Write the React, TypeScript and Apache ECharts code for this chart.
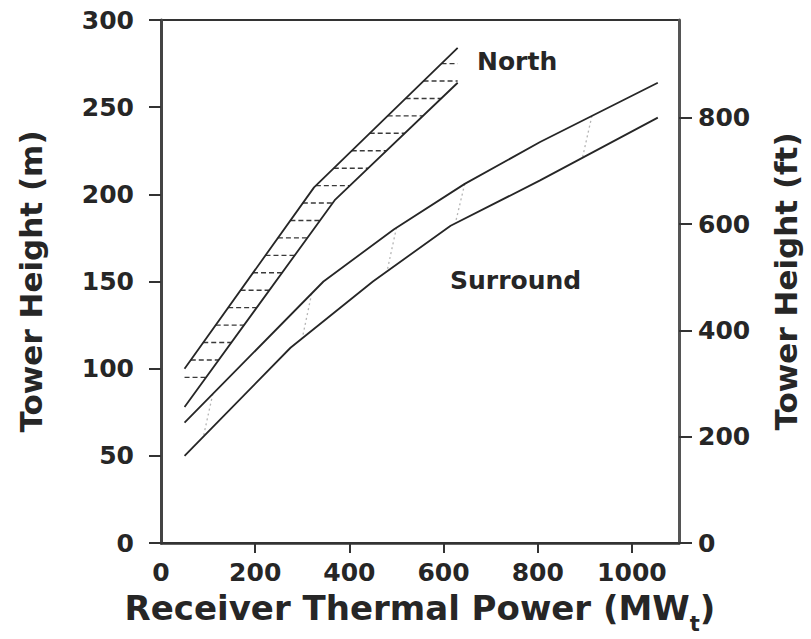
import React, { useEffect, useRef } from 'react';
import * as echarts from 'echarts';

// Axis ticks
const powerTicks = [0, 200, 400, 600, 800, 1000];
const powerTickMarks = [200, 400, 600, 800, 1000];
const heightTicksFt = [0, 200, 400, 600, 800];

// Band edges: [receiver thermal power (MWt), tower height (m)]
const northUpper = [[50, 100], [325, 204], [630, 284]];
const northLower = [[50, 78], [370, 197], [630, 264]];
const surroundUpper = [[50, 69], [345, 150], [495, 180], [645, 206], [805, 230], [1055, 264]];
const surroundLower = [[50, 50], [275, 112], [450, 150], [615, 182], [805, 208], [1055, 244]];

// Horizontal hatch levels inside the North band (m)
const northHatchLevels = [95, 105, 115, 125, 135, 145, 155, 165, 175, 185, 195, 205, 215, 225, 235, 245, 255, 265, 275];
// Faint cross strokes inside the Surround band (MWt)
const surroundHatchPowers = [110, 320, 500, 645, 915];

const FT_PER_M = 1 / 0.3048;
const FONT = 'DejaVu Sans';
const INK = '#262626';

function xAtHeight(poly: number[][], h: number): number | null {
  for (let i = 0; i < poly.length - 1; i++) {
    const [x0, y0] = poly[i];
    const [x1, y1] = poly[i + 1];
    if ((h >= y0 && h <= y1) || (h <= y0 && h >= y1)) {
      if (y1 === y0) return x0;
      return x0 + ((h - y0) / (y1 - y0)) * (x1 - x0);
    }
  }
  return null;
}

function yAtPower(poly: number[][], x: number): number {
  for (let i = 0; i < poly.length - 1; i++) {
    const [x0, y0] = poly[i];
    const [x1, y1] = poly[i + 1];
    if (x >= x0 && x <= x1) return y0 + ((x - x0) / (x1 - x0)) * (y1 - y0);
  }
  return x < poly[0][0] ? poly[0][1] : poly[poly.length - 1][1];
}

const edgeLine = (name: string, data: number[][]) => ({
  name,
  type: 'line',
  data,
  showSymbol: false,
  symbol: 'none',
  xAxisIndex: 0,
  yAxisIndex: 0,
  z: 3,
  lineStyle: { color: INK, width: 1.8 },
});

const plainNumber = (v: number) => String(Math.round(v));

export default function App() {
  const ref = useRef<HTMLDivElement>(null);

  useEffect(() => {
    if (!ref.current) return;
    const chart = echarts.init(ref.current, undefined, { renderer: 'svg' });

    const northFirst = northUpper[0];
    const northLast = northLower[northLower.length - 1];

    chart.setOption({
      animation: false,
      backgroundColor: '#ffffff',
      textStyle: { fontFamily: FONT },
      grid: {
        left: 161,
        right: 132,
        top: 20,
        bottom: 95,
        show: true,
        borderColor: '#333',
        borderWidth: 2,
        backgroundColor: 'transparent',
      },
      xAxis: {
        type: 'value',
        min: 0,
        max: 1100,
        interval: 200,
        name: '{a|Receiver Thermal Power (MW}{s|t}{a|)}',
        nameLocation: 'middle',
        nameGap: 38,
        nameTextStyle: {
          rich: {
            a: { fontSize: 34, fontWeight: 'bold', color: INK, fontFamily: FONT },
            s: { fontSize: 21, fontWeight: 'bold', color: INK, fontFamily: FONT, padding: [32, 0, 0, 0] },
          },
        },
        axisLine: { show: true, lineStyle: { color: '#333', width: 2.5 } },
        axisTick: { show: true, customValues: powerTickMarks, length: 10, lineStyle: { color: '#333', width: 2 } },
        axisLabel: {
          customValues: powerTicks,
          formatter: plainNumber,
          margin: 17,
          fontSize: 25,
          fontWeight: 'bold',
          color: INK,
          fontFamily: FONT,
        },
        splitLine: { show: false },
      },
      yAxis: [
        {
          type: 'value',
          min: 0,
          max: 300,
          interval: 50,
          position: 'left',
          name: 'Tower Height (m)',
          nameLocation: 'middle',
          nameGap: 115,
          nameTextStyle: { fontSize: 31, fontWeight: 'bold', color: INK, fontFamily: FONT },
          axisLine: { show: true, lineStyle: { color: '#444', width: 3 } },
          axisTick: { show: true, length: 12, lineStyle: { color: '#333', width: 2 } },
          axisLabel: { formatter: plainNumber, margin: 27, fontSize: 25, fontWeight: 'bold', color: INK, fontFamily: FONT },
          splitLine: { show: false },
        },
        {
          type: 'value',
          min: 0,
          max: 300 * FT_PER_M,
          position: 'right',
          name: 'Tower Height (ft)',
          nameLocation: 'middle',
          nameGap: 91,
          nameTextStyle: { fontSize: 31, fontWeight: 'bold', color: INK, fontFamily: FONT },
          axisLine: { show: true, lineStyle: { color: '#555', width: 3 } },
          axisTick: { show: true, customValues: heightTicksFt, length: 13, lineStyle: { color: '#333', width: 2 } },
          axisLabel: {
            customValues: heightTicksFt,
            formatter: plainNumber,
            margin: 19,
            fontSize: 25,
            fontWeight: 'bold',
            color: INK,
            fontFamily: FONT,
          },
          splitLine: { show: false },
        },
      ],
      graphic: [
        {
          type: 'text',
          left: 477,
          top: 49,
          style: { text: 'North', fontSize: 25, fontWeight: 'bold', fill: INK, fontFamily: FONT },
        },
        {
          type: 'text',
          left: 450,
          top: 268,
          style: { text: 'Surround', fontSize: 25, fontWeight: 'bold', fill: INK, fontFamily: FONT },
        },
      ],
      series: [
        edgeLine('North upper', northUpper),
        edgeLine('North lower', northLower),
        edgeLine('Surround upper', surroundUpper),
        edgeLine('Surround lower', surroundLower),
        {
          name: 'North hatch',
          type: 'custom',
          coordinateSystem: 'cartesian2d',
          xAxisIndex: 0,
          yAxisIndex: 0,
          z: 2,
          silent: true,
          data: northHatchLevels.map((h) => [northFirst[0], h]),
          encode: { x: 0, y: 1 },
          renderItem: (_params: any, api: any) => {
            const h = api.value(1);
            const xu = h < northFirst[1] ? northFirst[0] : xAtHeight(northUpper, h);
            const xl = h > northLast[1] ? northLast[0] : xAtHeight(northLower, h);
            if (xu == null || xl == null) return null;
            const p1 = api.coord([xu, h]);
            const p2 = api.coord([xl, h]);
            return {
              type: 'line',
              shape: { x1: p1[0], y1: p1[1], x2: p2[0], y2: p2[1] },
              style: { stroke: '#3a3a3a', lineWidth: 1.4, lineDash: [5, 3] },
            };
          },
        },
        {
          name: 'Surround hatch',
          type: 'custom',
          coordinateSystem: 'cartesian2d',
          xAxisIndex: 0,
          yAxisIndex: 0,
          z: 2,
          silent: true,
          data: surroundHatchPowers.map((p) => [p, yAtPower(surroundUpper, p)]),
          encode: { x: 0, y: 1 },
          renderItem: (_params: any, api: any) => {
            const p = api.value(0);
            const p1 = api.coord([p, yAtPower(surroundUpper, p)]);
            const p2 = api.coord([p - 20, yAtPower(surroundLower, p - 20)]);
            return {
              type: 'line',
              shape: { x1: p1[0], y1: p1[1], x2: p2[0], y2: p2[1] },
              style: { stroke: '#b5b5b5', lineWidth: 1.3, lineDash: [2, 3] },
            };
          },
        },
      ],
    });

    return () => chart.dispose();
  }, []);

  return (
    <div
      ref={ref}
      style={{ position: 'fixed', left: 0, top: 0, width: 811, height: 639, background: '#fff' }}
    />
  );
}
